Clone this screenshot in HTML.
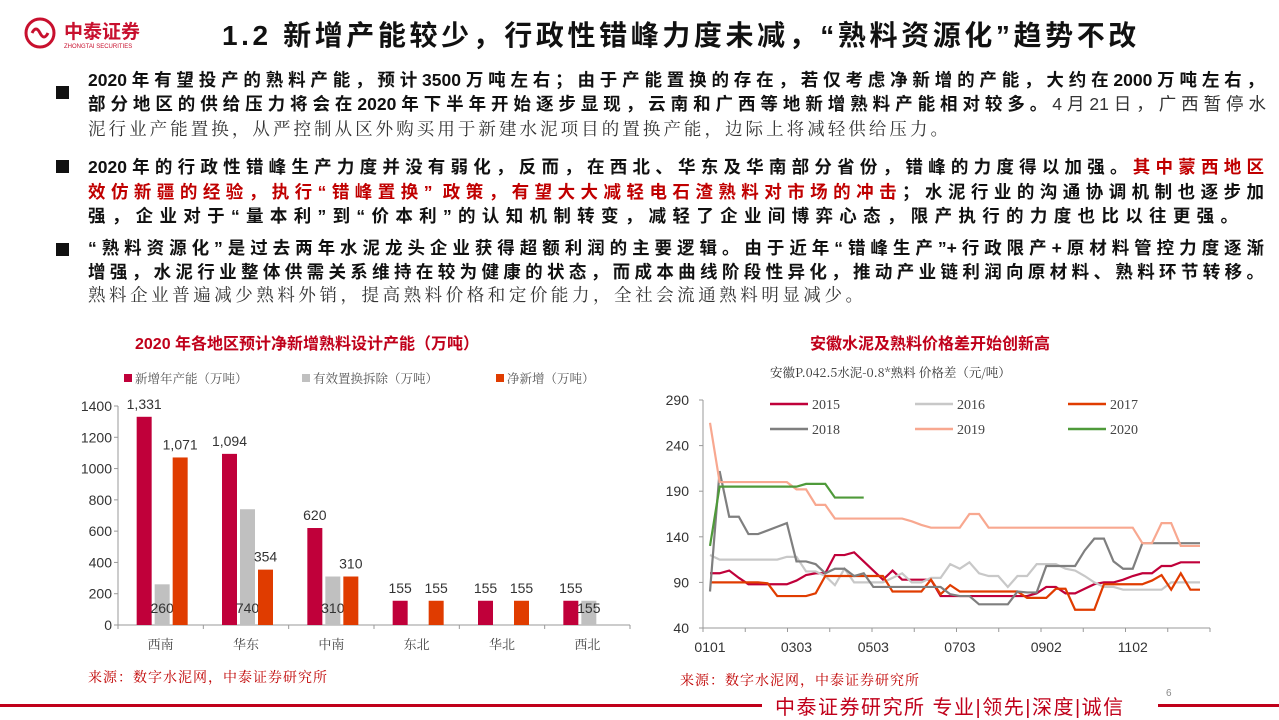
<!DOCTYPE html>
<html><head><meta charset="utf-8">
<style>
*{margin:0;padding:0;box-sizing:border-box}
body{width:1279px;height:719px;background:#fff;position:relative;overflow:hidden;font-family:"Liberation Sans","Noto Sans CJK SC",sans-serif}
.abs{position:absolute}
.title{left:222px;top:14px;font-size:28px;font-weight:bold;color:#111;white-space:nowrap;letter-spacing:3.6px}
.bul{position:absolute;left:56px;width:13px;height:13px;background:#111}
.ln{position:absolute;left:88px;width:1176px;font-size:17.5px;line-height:24px;height:24px;white-space:nowrap;text-align:justify;text-align-last:justify;color:#111;font-weight:bold;overflow:hidden}
.ln.n{font-weight:normal;color:#333;font-family:"Liberation Serif","Noto Serif CJK SC",serif}
.red{color:#c00000}
.ct{font-size:16px;font-weight:bold;color:#c0001a}
.src{font-family:"Liberation Serif","Noto Serif CJK SC",serif;font-size:14px;color:#c00000;letter-spacing:1px}
</style></head><body>
<div class="abs" style="left:22px;top:16px">
<svg width="160" height="36"><circle cx="18" cy="17" r="14" fill="none" stroke="#c8102e" stroke-width="3"/><path d="M10 17 q4 -8 8 0 q4 8 8 0" fill="none" stroke="#c8102e" stroke-width="3"/><text x="42" y="22" font-size="19" font-weight="bold" fill="#c8102e" font-family="Noto Sans CJK SC">中泰证券</text><text x="42" y="32" font-size="6" fill="#c8102e">ZHONGTAI SECURITIES</text></svg></div>
<div class="abs title">1.2 新增产能较少，行政性错峰力度未减，“熟料资源化”趋势不改</div>

<div class="bul" style="top:86px"></div>
<div class="ln" style="top:68px">2020年有望投产的熟料产能，预计3500万吨左右；由于产能置换的存在，若仅考虑净新增的产能，大约在2000万吨左右，</div>
<div class="ln" style="top:92px;width:1178px">部分地区的供给压力将会在2020年下半年开始逐步显现，云南和广西等地新增熟料产能相对较多。<span style="font-weight:normal;color:#333">4月21日，广西暂停水</span></div>
<div class="ln n" style="top:117px;width:860px">泥行业产能置换，从严控制从区外购买用于新建水泥项目的置换产能，边际上将减轻供给压力。</div>

<div class="bul" style="top:160px"></div>
<div class="ln" style="top:155px">2020年的行政性错峰生产力度并没有弱化，反而，在西北、华东及华南部分省份，错峰的力度得以加强。<span class="red">其中蒙西地区</span></div>
<div class="ln" style="top:180px"><span class="red">效仿新疆的经验，执行“错峰置换” 政策，有望大大减轻电石渣熟料对市场的冲击</span>；水泥行业的沟通协调机制也逐步加</div>
<div class="ln" style="top:204px;width:1150px">强，企业对于“量本利”到“价本利”的认知机制转变，减轻了企业间博弈心态，限产执行的力度也比以往更强。</div>

<div class="bul" style="top:243px"></div>
<div class="ln" style="top:236px">“熟料资源化”是过去两年水泥龙头企业获得超额利润的主要逻辑。由于近年“错峰生产”+行政限产+原材料管控力度逐渐</div>
<div class="ln" style="top:260px">增强，水泥行业整体供需关系维持在较为健康的状态，而成本曲线阶段性异化，推动产业链利润向原材料、熟料环节转移。</div>
<div class="ln n" style="top:283px;width:775px">熟料企业普遍减少熟料外销，提高熟料价格和定价能力，全社会流通熟料明显减少。</div>

<div class="abs ct" style="left:135px;top:330px">2020 年各地区预计净新增熟料设计产能（万吨）</div>
<div class="abs ct" style="left:810px;top:330px">安徽水泥及熟料价格差开始创新高</div>

<svg class="abs" style="left:0;top:0" width="1279" height="719" id="charts"></svg>

<div class="abs src" style="left:88px;top:667px">来源：数字水泥网，中泰证券研究所</div>
<div class="abs src" style="left:680px;top:670px">来源：数字水泥网，中泰证券研究所</div>
<div class="abs" style="left:0;top:704px;width:762px;height:3px;background:#c0001a"></div>
<div class="abs" style="left:1158px;top:704px;width:121px;height:3px;background:#c0001a"></div>
<div class="abs" style="left:775px;top:691px;font-size:20px;color:#c0001a;white-space:nowrap;letter-spacing:1.5px">中泰证券研究所 专业|领先|深度|诚信</div>
<div class="abs" style="left:1166px;top:688px;font-size:10px;color:#888">6</div>

<script>
const regions=['西南','华东','中南','东北','华北','西北'];
const newCap=[1331,1094,620,155,155,155];
const replaced=[260,740,310,0,0,155];
const netNew=[1071,354,310,155,155,0];
const leftTicks=[0,200,400,600,800,1000,1200,1400];

const weeks=52;
const xTicks=['0101','0303','0503','0703','0902','1102'];
const xTickIdx=[0,9,17,26,35,44];
const rightTicks=[40,90,140,190,240,290];
const s2015=[100,100,103,95,88,88,88,88,88,92,98,100,100,120,120,123,113,103,93,103,93,93,93,93,75,75,75,75,75,75,75,75,75,75,78,85,85,78,78,83,88,90,90,93,97,100,100,108,108,112,112,112];
const s2016=[120,115,115,115,115,115,115,115,118,118,102,102,97,87,105,90,90,90,90,95,100,90,90,95,95,110,105,112,100,97,97,85,97,97,110,110,110,105,103,97,90,85,85,82,82,82,82,82,90,90,90,90];
const s2017=[90,90,90,90,90,90,89,75,75,75,75,78,97,97,97,97,97,97,97,80,80,80,80,93,77,87,80,80,80,80,80,80,80,73,73,73,83,83,60,60,60,88,88,88,88,88,92,98,82,100,82,82];
const s2018=[80,212,162,162,143,143,147,151,155,113,113,110,100,105,105,97,100,85,85,85,85,85,85,85,85,77,75,75,66,66,66,66,80,79,79,108,108,108,108,125,138,138,113,105,105,133,133,133,133,133,133,133];
const s2019=[265,200,200,200,200,200,200,200,200,192,192,175,175,160,160,160,160,160,160,160,160,157,153,150,150,150,150,165,165,150,150,150,150,150,150,150,150,150,150,150,150,150,150,150,150,133,133,155,155,130,130,130];
const s2020=[130,195,195,195,195,195,195,195,195,195,198,198,198,183,183,183,183];
const seriesNames=['2015','2016','2017','2018','2019','2020'];
const seriesColors=['#c0003a','#c8c8c8','#e03c00','#7f7f7f','#f8a890','#4f9a3a'];

const svg=document.getElementById('charts');
const NS='http://www.w3.org/2000/svg';
function mk(tag,attrs,name,txt){const e=document.createElementNS(NS,tag);for(const k in attrs)e.setAttribute(k,attrs[k]);


if(txt!==undefined)e.textContent=txt;svg.appendChild(e);return e;}

const lx0=118,lx1=630,ly0=625,ly1=406;
const ly=v=>ly0-(v/1400)*(ly0-ly1);
const gw=(lx1-lx0)/6;
mk('line',{x1:lx0,y1:ly1,x2:lx0,y2:ly0,stroke:'#999'},'left-y-axis');
mk('line',{x1:lx0,y1:ly0,x2:lx1,y2:ly0,stroke:'#999'},'left-x-axis');
leftTicks.forEach(t=>{mk('line',{x1:lx0-4,y1:ly(t),x2:lx0,y2:ly(t),stroke:'#999'},'left-y-tick');
mk('text',{x:lx0-6,y:ly(t)+5,'text-anchor':'end','font-size':14,fill:'#333'},'left-y-tick-label',String(t));});
for(let i=0;i<=6;i++)mk('line',{x1:lx0+i*gw,y1:ly0,x2:lx0+i*gw,y2:ly0+4,stroke:'#999'},'left-x-tick');
const barC=['#c0003a','#c0c0c0','#e03c00'];
const fmt=v=>v.toLocaleString('en-US');
regions.forEach((r,i)=>{const c=lx0+gw*(i+0.5);
mk('text',{x:c,y:ly0+24,'text-anchor':'middle','font-size':13,fill:'#444','font-family':'Noto Serif CJK SC'},'left-x-label',r);
[newCap[i],replaced[i],netNew[i]].forEach((v,j)=>{if(!v)return;const x=c-24+j*18;
mk('rect',{x:x,y:ly(v),width:15,height:ly0-ly(v),fill:barC[j]},'bar-'+['new','replaced','net'][j]);
const ty=j===1?ly0-12:ly(v)-8;
mk('text',{x:x+7.5,y:ty,'text-anchor':'middle','font-size':14,fill:'#333'},'bar-value-label',fmt(v));});});
const legL=[['新增年产能（万吨）',124],['有效置换拆除（万吨）',302],['净新增（万吨）',496]];
legL.forEach((l,i)=>{mk('rect',{x:l[1],y:374,width:8,height:8,fill:barC[i]},'left-legend-swatch');
mk('text',{x:l[1]+11,y:383,'font-size':12.5,fill:'#555','font-family':'Noto Serif CJK SC'},'left-legend-entry',l[0]);});

const rx0=703,rx1=1210,ry0=628,ry1=400;
const rX=i=>710+i*(490/(weeks-1));
const rY=v=>ry0-(v-40)/250*(ry0-ry1);
mk('line',{x1:rx0,y1:ry1,x2:rx0,y2:ry0,stroke:'#999'},'right-y-axis');
mk('line',{x1:rx0,y1:ry0,x2:rx1,y2:ry0,stroke:'#999'},'right-x-axis');
rightTicks.forEach(t=>{mk('line',{x1:rx0-4,y1:rY(t),x2:rx0,y2:rY(t),stroke:'#999'},'right-y-tick');
mk('text',{x:rx0-14,y:rY(t)+5,'text-anchor':'end','font-size':14,fill:'#333'},'right-y-tick-label',String(t));});
for(let k=0;k<=12;k++){const x=rx0+k*(rx1-rx0)/12;mk('line',{x1:x,y1:ry0,x2:x,y2:ry0+4,stroke:'#999'},'right-x-tick');}
xTicks.forEach((t,k)=>mk('text',{x:rX(xTickIdx[k]),y:ry0+24,'text-anchor':'middle','font-size':14,fill:'#333'},'right-x-tick-label',t));
mk('text',{x:770,y:377,'font-size':12.5,fill:'#333','font-family':'Noto Serif CJK SC'},'right-chart-subtitle','安徽P.042.5水泥-0.8*熟料 价格差（元/吨）');
[s2015,s2016,s2017,s2018,s2019,s2020].forEach((s,k)=>{
mk('polyline',{points:s.map((v,i)=>rX(i)+','+rY(v)).join(' '),fill:'none',stroke:seriesColors[k],'stroke-width':2.2},'line-'+seriesNames[k]);
const lx=[770,915,1068][k%3],lyy=k<3?404:429;
mk('line',{x1:lx,y1:lyy,x2:lx+38,y2:lyy,stroke:seriesColors[k],'stroke-width':2.5},'right-legend-swatch');
mk('text',{x:lx+42,y:lyy+5,'font-size':14,fill:'#444','font-family':'Liberation Serif'},'right-legend-entry',seriesNames[k]);});
</script>
</body></html>
